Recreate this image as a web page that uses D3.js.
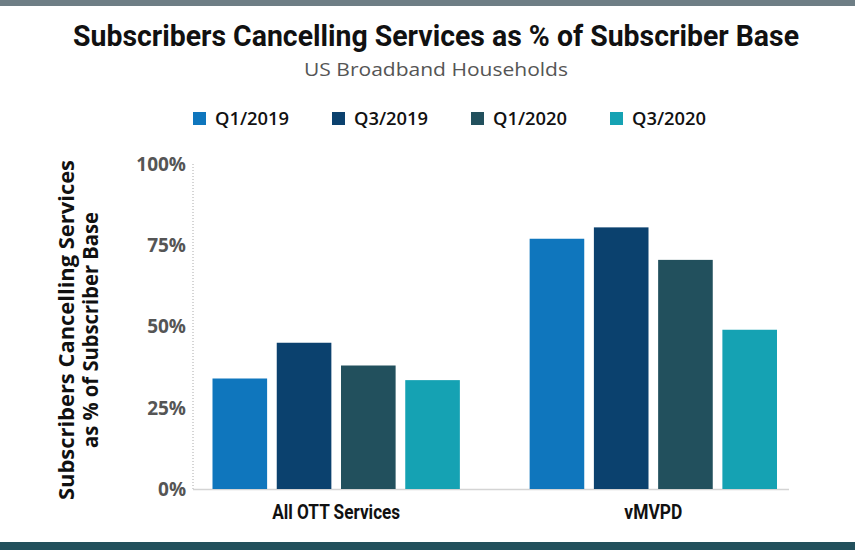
<!DOCTYPE html>
<html>
<head>
<meta charset="utf-8">
<script src="https://cdn.jsdelivr.net/npm/d3@7/dist/d3.min.js"></script>
<style>
  html, body { margin: 0; padding: 0; background: #fff; }
  svg { display: block; }
</style>
</head>
<body>
<svg id="chart" width="855" height="550"></svg>
<script>
// ---- data ----
const categories = ["All OTT Services", "vMVPD"];
const seriesNames = ["Q1/2019", "Q3/2019", "Q1/2020", "Q3/2020"];
const q1_2019 = [34, 77];
const q3_2019 = [45, 80.5];
const q1_2020 = [38, 70.5];
const q3_2020 = [33.5, 49];
const seriesColors = ["#0f76bd", "#0b416e", "#22505d", "#15a2b3"];
const yTicks = [0, 25, 50, 75, 100];

const seriesValues = [q1_2019, q3_2019, q1_2020, q3_2020];
const rows = [];
categories.forEach((c, ci) => {
  seriesNames.forEach((s, si) => rows.push({ cat: c, series: s, value: seriesValues[si][ci], color: seriesColors[si] }));
});

const svg = d3.select("#chart");
const W = 855, H = 550;

// frame bands
svg.append("rect").attr("x", 0).attr("y", 0).attr("width", W).attr("height", 6).attr("fill", "#6e7e85");
svg.append("rect").attr("x", 0).attr("y", 542).attr("width", W).attr("height", 8).attr("fill", "#22505c");

// title
svg.append("text").attr("x", 436).attr("y", 46).attr("text-anchor", "middle")
  .attr("font-family", "Roboto, 'Open Sans', sans-serif").attr("font-weight", 700)
  .attr("font-size", 29).attr("fill", "#111")
  .attr("textLength", 726).attr("lengthAdjust", "spacingAndGlyphs")
  .text("Subscribers Cancelling Services as % of Subscriber Base");
svg.append("text").attr("x", 436).attr("y", 76).attr("text-anchor", "middle")
  .attr("font-family", "'Open Sans', sans-serif").attr("font-weight", 400)
  .attr("font-size", 19).attr("fill", "#555")
  .attr("textLength", 264).attr("lengthAdjust", "spacingAndGlyphs")
  .text("US Broadband Households");

// legend
const legendX = d3.scalePoint().domain(seriesNames).range([193, 610]);
const lg = svg.append("g").selectAll("g").data(seriesNames).join("g")
  .attr("transform", d => `translate(${legendX(d)},112)`);
lg.append("rect").attr("width", 13).attr("height", 13)
  .attr("fill", (d, i) => seriesColors[i]);
lg.append("text").attr("x", 22).attr("y", 12.5)
  .attr("font-family", "'Open Sans', sans-serif").attr("font-weight", 600)
  .attr("font-size", 18).attr("fill", "#111")
  .attr("textLength", 74).attr("lengthAdjust", "spacingAndGlyphs")
  .text(d => d);

// scales
const y = d3.scaleLinear().domain([0, 100]).range([489, 164]);
const x0 = d3.scaleBand().domain(categories).range([212.5, 777]).paddingInner(0.22).paddingOuter(0);
const x1 = d3.scaleBand().domain(seriesNames).range([0, x0.bandwidth()]).paddingInner(0.15).paddingOuter(0);

// y axis
const yAxis = d3.axisLeft(y).tickValues(yTicks).tickSize(0).tickPadding(7).tickFormat(d => d + "%");
const yg = svg.append("g").attr("transform", "translate(193,0)").call(yAxis);
yg.select(".domain").remove();
yg.selectAll("text").attr("font-family", "'Open Sans', sans-serif").attr("font-weight", 700)
  .attr("font-size", 19).attr("fill", "#555").attr("dy", "0.34em");
svg.append("line").attr("x1", 193).attr("x2", 193).attr("y1", y(100)).attr("y2", y(0))
  .attr("stroke", "#aaa").attr("stroke-width", 1).attr("stroke-dasharray", "1,2");

// baseline
svg.append("line").attr("x1", 193).attr("x2", 789).attr("y1", y(0) + 0.5).attr("y2", y(0) + 0.5)
  .attr("stroke", "#d4d4d4").attr("stroke-width", 1.5);

// bars
svg.append("g").selectAll("rect").data(rows).join("rect")
  .attr("x", d => x0(d.cat) + x1(d.series))
  .attr("width", x1.bandwidth())
  .attr("y", d => y(d.value))
  .attr("height", d => y(0) - y(d.value))
  .attr("fill", d => d.color);

// x axis labels
const xAxis = d3.axisBottom(x0).tickSize(0).tickPadding(15);
const xg = svg.append("g").attr("transform", `translate(0,${y(0)})`).call(xAxis);
xg.select(".domain").remove();
xg.selectAll("text").attr("font-family", "Roboto, 'Open Sans', sans-serif").attr("font-weight", 700)
  .attr("font-size", 21).attr("fill", "#111")
  .attr("lengthAdjust", "spacingAndGlyphs")
  .attr("textLength", d => d === "vMVPD" ? 58 : 128);

// y axis title
const yt = svg.append("text").attr("transform", "translate(0,330) rotate(-90)")
  .attr("text-anchor", "middle").attr("font-family", "'Open Sans', sans-serif")
  .attr("font-weight", 700).attr("font-size", 22).attr("fill", "#111");
yt.append("tspan").attr("x", 0).attr("y", 74)
  .attr("textLength", 340).attr("lengthAdjust", "spacingAndGlyphs")
  .text("Subscribers Cancelling Services");
yt.append("tspan").attr("x", 0).attr("y", 98)
  .attr("textLength", 236).attr("lengthAdjust", "spacingAndGlyphs")
  .text("as % of Subscriber Base");
</script>
</body>
</html>
